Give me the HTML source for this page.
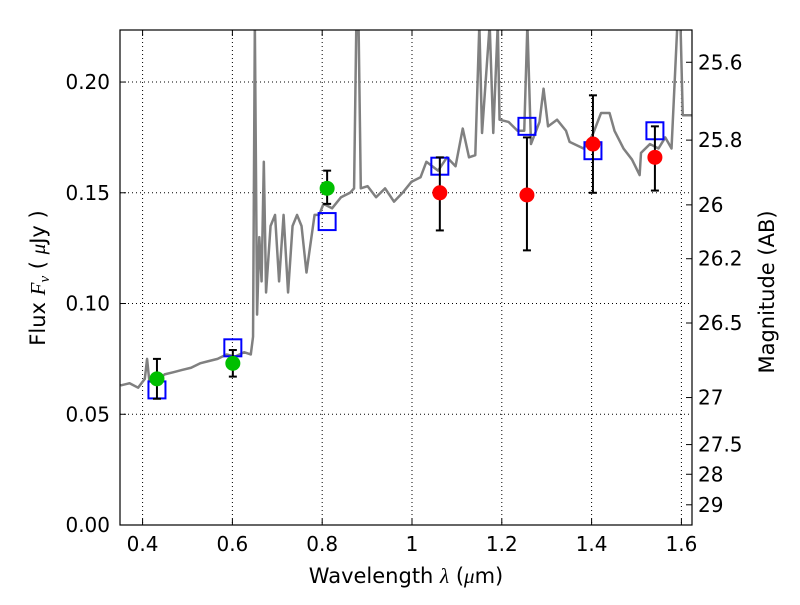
<!DOCTYPE html>
<html><head><meta charset="utf-8"><style>
body{margin:0;background:#fff;}
svg text{font-family:"DejaVu Sans","Liberation Sans",sans-serif;}
</style></head><body>
<svg id="c" width="800" height="600"></svg>
<script>
const specLam=[0.351,0.371,0.390,0.405,0.410,0.415,0.429,0.449,0.469,0.488,0.508,0.528,0.547,0.567,0.587,0.606,0.626,0.641,0.646,0.650,0.655,0.660,0.665,0.670,0.675,0.685,0.695,0.704,0.714,0.724,0.734,0.744,0.754,0.765,0.783,0.793,0.803,0.822,0.842,0.862,0.871,0.876,0.881,0.886,0.901,0.920,0.940,0.960,0.979,0.999,1.019,1.032,1.058,1.078,1.097,1.113,1.127,1.141,1.150,1.156,1.173,1.181,1.191,1.195,1.215,1.235,1.250,1.257,1.265,1.284,1.293,1.303,1.323,1.343,1.351,1.382,1.402,1.421,1.440,1.451,1.471,1.490,1.507,1.510,1.530,1.549,1.564,1.578,1.591,1.598,1.603,1.623];
const specFlux=[0.063,0.064,0.062,0.066,0.075,0.065,0.064,0.068,0.069,0.070,0.071,0.073,0.074,0.075,0.077,0.076,0.078,0.077,0.085,0.226,0.095,0.130,0.110,0.164,0.105,0.135,0.140,0.110,0.140,0.105,0.135,0.140,0.135,0.114,0.140,0.140,0.145,0.143,0.148,0.150,0.152,0.226,0.226,0.152,0.153,0.148,0.152,0.146,0.150,0.155,0.157,0.164,0.160,0.166,0.162,0.179,0.166,0.167,0.226,0.177,0.226,0.177,0.226,0.183,0.182,0.178,0.178,0.226,0.172,0.182,0.197,0.180,0.183,0.178,0.173,0.170,0.176,0.186,0.186,0.178,0.170,0.165,0.158,0.168,0.172,0.170,0.175,0.170,0.226,0.226,0.185,0.185];
const greenLam=[0.432,0.601,0.811];
const greenFlux=[0.066,0.073,0.152];
const greenLo=[0.057,0.067,0.145];
const greenHi=[0.075,0.079,0.160];
const redLam=[1.062,1.256,1.403,1.541];
const redFlux=[0.150,0.149,0.172,0.166];
const redLo=[0.133,0.124,0.150,0.151];
const redHi=[0.166,0.175,0.194,0.180];
const modelLam=[0.432,0.601,0.811,1.062,1.256,1.403,1.541];
const modelFlux=[0.061,0.080,0.137,0.162,0.180,0.169,0.178];
const xTicks=[0.4,0.6,0.8,1.0,1.2,1.4,1.6];
const xTickLabels=["0.4","0.6","0.8","1","1.2","1.4","1.6"];
const yTicks=[0,0.05,0.10,0.15,0.20];
const yTickLabels=["0.00","0.05","0.10","0.15","0.20"];
const magTicks=[25.6,25.8,26,26.2,26.5,27,27.5,28,29];
const magLabels=["25.6","25.8","26","26.2","26.5","27","27.5","28","29"];

const L=120,R=692,T=30,B=525;
const xMin=0.3497,xMax=1.6236,yMin=0,yMax=0.2235;
const X=v=>L+(v-xMin)/(xMax-xMin)*(R-L);
const Y=v=>B-(v-yMin)/(yMax-yMin)*(B-T);
const svg=document.getElementById('c');
const NS='http://www.w3.org/2000/svg';
function mk(t,a,p){const e=document.createElementNS(NS,t);for(const k in a)e.setAttribute(k,a[k]);(p||svg).appendChild(e);return e;}
const defs=mk('defs',{});const cp=mk('clipPath',{id:'cl'},defs);mk('rect',{x:L,y:T,width:R-L,height:B-T},cp);

const grid=mk('g',{});


xTicks.forEach((v,i)=>{
  mk('line',{x1:X(v),x2:X(v),y1:T,y2:B,stroke:'#000','stroke-width':1,'stroke-dasharray':'1,3'},grid);
  mk('line',{x1:X(v),x2:X(v),y1:B,y2:B-6,stroke:'#000'},grid);
  mk('line',{x1:X(v),x2:X(v),y1:T,y2:T+6,stroke:'#000'},grid);
  const t=mk('text',{x:X(v),y:B+26,'font-size':20,'text-anchor':'middle'});t.textContent=xTickLabels[i];
  
  
});
yTicks.forEach((v,i)=>{
  mk('line',{x1:L,x2:R,y1:Y(v),y2:Y(v),stroke:'#000','stroke-width':1,'stroke-dasharray':'1,3'},grid);
  mk('line',{x1:L,x2:L+6,y1:Y(v),y2:Y(v),stroke:'#000'},grid);
  const t=mk('text',{x:L-10,y:Y(v)+7,'font-size':20,'text-anchor':'end'});t.textContent=yTickLabels[i];
  
  
});
magTicks.forEach((m,i)=>{
  const f=Math.pow(10,(23.9-m)/2.5);const y=Y(f);
  mk('line',{x1:R-6,x2:R,y1:y,y2:y,stroke:'#000'});
  const t=mk('text',{x:R+6,y:y+7,'font-size':20});t.textContent=magLabels[i];
  
  
});

const g=mk('g',{'clip-path':'url(#cl)'});
const sp=mk('polyline',{points:specLam.map((l,i)=>X(l)+','+Y(specFlux[i])).join(' '),fill:'none',stroke:'#808080','stroke-width':2.5,'stroke-linejoin':'round'},g);



modelLam.forEach((l,i)=>{
  const r=mk('rect',{x:X(l)-8.5,y:Y(modelFlux[i])-8.5,width:17,height:17,fill:'none',stroke:'#0000ff','stroke-width':2},g);
  
  
});
function pts(lam,fl,lo,hi,col,name){
  lam.forEach((l,i)=>{
    const x=X(l);
    const eb=mk('g',{stroke:'#000','stroke-width':2},g);
    
    
    mk('line',{x1:x,x2:x,y1:Y(lo[i]),y2:Y(hi[i])},eb);
    mk('line',{x1:x-4,x2:x+4,y1:Y(lo[i]),y2:Y(lo[i])},eb);
    mk('line',{x1:x-4,x2:x+4,y1:Y(hi[i]),y2:Y(hi[i])},eb);
    const c=mk('circle',{cx:x,cy:Y(fl[i]),r:7.5,fill:col},g);
    
    
  });
}
pts(greenLam,greenFlux,greenLo,greenHi,'#00bf00','optical-flux-point');
pts(redLam,redFlux,redLo,redHi,'#ff0000','nir-flux-point');

const fr=mk('rect',{x:L,y:T,width:R-L,height:B-T,fill:'none',stroke:'#000','stroke-width':1.2});



const xt=mk('text',{x:406,y:583,'font-size':21,'text-anchor':'middle'});
xt.innerHTML='Wavelength  <tspan font-style="italic" font-family="Liberation Serif">λ</tspan> (<tspan font-style="italic" font-family="Liberation Serif">μ</tspan>m)';


const yt=mk('text',{x:0,y:0,'font-size':21,'text-anchor':'middle',transform:'translate(45,278) rotate(-90)'});
yt.innerHTML='Flux  <tspan font-style="italic" font-family="Liberation Serif">F</tspan><tspan font-style="italic" font-family="Liberation Serif" font-size="15" dy="4">ν</tspan><tspan dy="-4">  (  </tspan><tspan font-style="italic" font-family="Liberation Serif">μ</tspan>Jy )';


const rt=mk('text',{x:0,y:0,'font-size':21,'text-anchor':'middle',transform:'translate(774,292) rotate(-90)'});
rt.textContent='Magnitude (AB)';


</script>
</body></html>
